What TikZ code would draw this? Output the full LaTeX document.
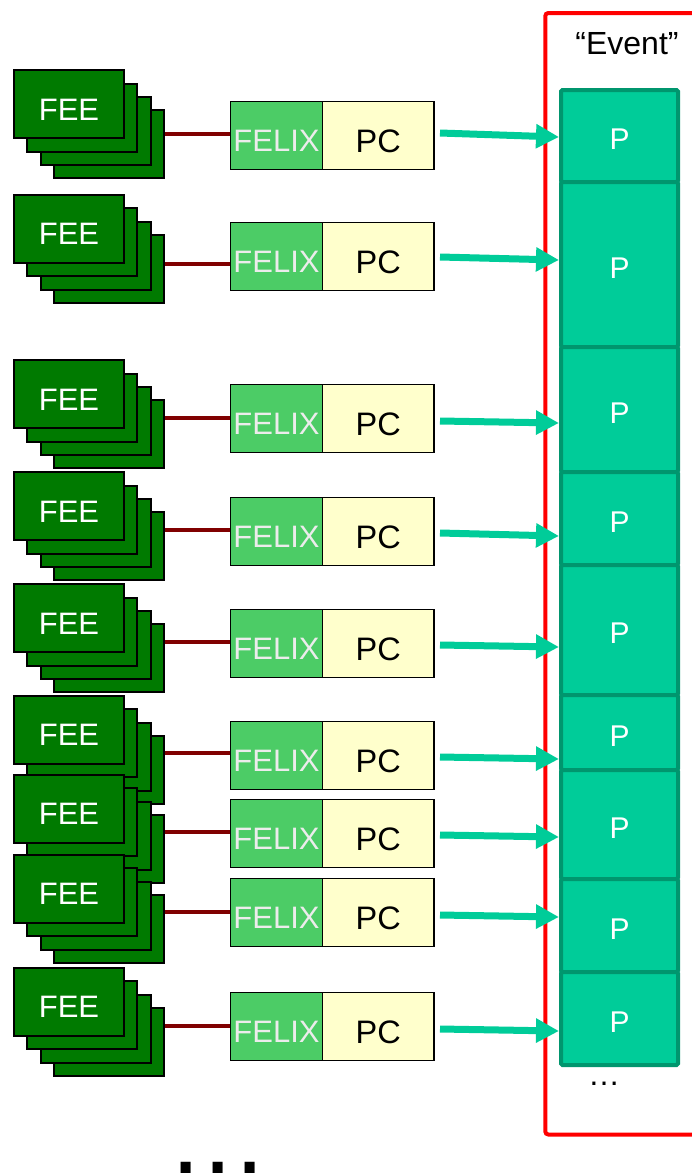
\documentclass[tikz,border=0pt]{standalone}
\usepackage{fontspec}
\setmainfont{Liberation Sans}
\usetikzlibrary{arrows.meta}
\definecolor{feegreen}{RGB}{0,122,0}
\definecolor{felixgreen}{RGB}{76,204,102}
\definecolor{felixtext}{RGB}{236,236,236}
\definecolor{pcyellow}{RGB}{255,255,204}
\definecolor{pgreen}{RGB}{0,204,153}
\definecolor{pborder}{RGB}{0,150,110}
\definecolor{wirered}{RGB}{128,0,0}
\definecolor{framered}{RGB}{255,0,0}
\begin{document}
\begin{tikzpicture}[x=1pt,y=-1pt,
  feecard/.style={draw=black, line width=2.2pt, fill=feegreen, minimum width=110pt, minimum height=68pt, inner sep=0pt},
  feetext/.style={text=white, font=\fontsize{31}{31}\selectfont, text height=31.6pt, text depth=0pt},
  felixbox/.style={draw=black, line width=1.6pt, fill=felixgreen, minimum width=92pt, minimum height=68pt, inner sep=0pt, text=felixtext, font=\fontsize{31}{31}\selectfont, text height=31.2pt, text depth=0pt},
  pcbox/.style={draw=black, line width=1.6pt, fill=pcyellow, minimum width=111.5pt, minimum height=68pt, inner sep=0pt, text=black, font=\fontsize{32.5}{32.5}\selectfont, text height=33.7pt, text depth=0pt},
  pbox/.style={draw=pborder, line width=4pt, fill=pgreen, minimum width=117pt, inner sep=0pt, rounded corners=1.5pt, text=white, font=\fontsize{30}{30}\selectfont, text height=27.5pt, text depth=0pt},
  wire/.style={draw=wirered, line width=3.5pt},
  flow/.style={draw=pgreen, line width=7pt, -{Triangle[length=23pt,width=23pt]}},
  frame/.style={draw=framered, line width=4pt, rounded corners=3pt, inner sep=0pt},
  bigtext/.style={inner sep=0pt, text=black}
]
\useasboundingbox (0,0) rectangle (692,1176);
\clip (0,0) rectangle (692,1176);

% event frame
\node[frame, anchor=north west, minimum width=200pt, minimum height=1121.5pt] (evframe) at (543.3,11) {};
\node[bigtext, anchor=base, font=\fontsize{32}{32}\selectfont] (evlabel) at (627,54.7) {“Event”};
\node[bigtext, anchor=base, font=\fontsize{32}{32}\selectfont] (pdots) at (604,1085) {…};

% P column
\foreach \i/\a/\b in {1/90/182,2/182/347,3/347/472,4/472/565,5/565/695,6/695/770,7/770/879,8/879/972,9/972/1065}{
  \node[pbox, minimum height={(\b-\a)*1pt}] (p\i) at (619.5,{(\a+\b)/2}) {P};
}

% rows
\foreach \i/\ft/\xt/\wy/\as/\ae in {1/69.3/101/134/133/137,2/194/222/264/257/260,3/359.3/384/418/421/423,4/471.3/497/530/533/536,5/583.3/609/642/645/647,6/695/721/753/757/759,7/774/799/832/835/837,8/854/878/912/915/917,9/967/992/1026/1029/1031}{
  \foreach \k in {3,2,1}{
    \node[feecard] (fee\i-\k) at ({69+13.33*\k},{\ft+35+13.33*\k}) {};
  }
  \node[feecard, feetext] (fee\i-0) at (69,{\ft+35}) {FEE};
  \node[felixbox] (felix\i) at (276.5,{\xt+34.5}) {FELIX};
  \node[pcbox] (pc\i) at (378.25,{\xt+34.5}) {PC};
  \coordinate (w\i) at (0,\wy);
  \draw[wire] (fee\i-3.east |- w\i) -- (felix\i.west |- w\i);
  \coordinate (s\i) at (440,\as);
  \coordinate (e\i) at (0,\ae);
  \draw[flow] (s\i) -- (p\i.west |- e\i);
}

% big ellipsis at bottom
\node[bigtext, anchor=base west, font=\fontsize{105}{105}\selectfont] (moredots) at (171.5,1173.5) {.\kern2.8pt.\kern2.8pt.};
\end{tikzpicture}
\end{document}
